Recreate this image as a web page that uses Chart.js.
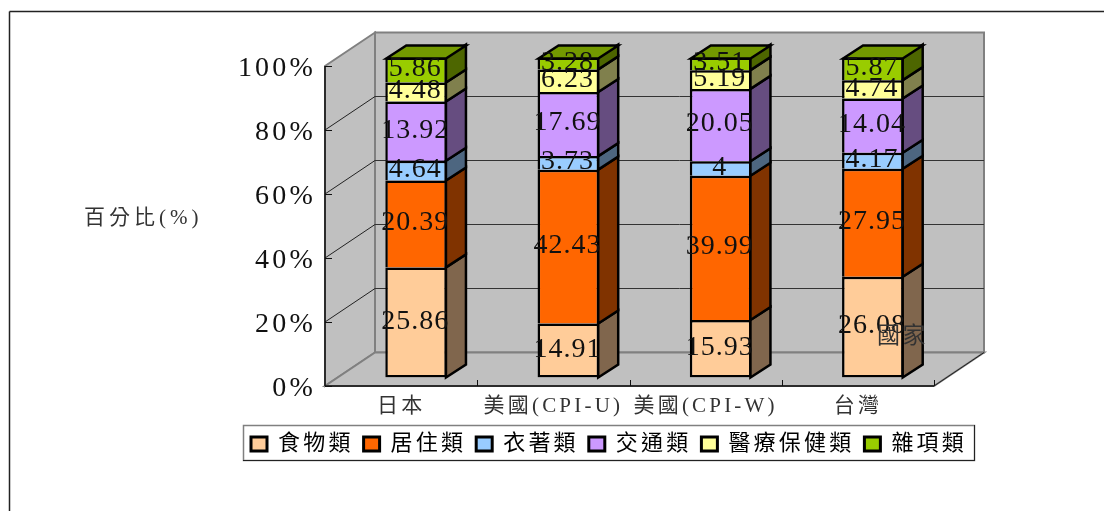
<!DOCTYPE html>
<html>
<head>
<meta charset="utf-8">
<script src="https://cdn.jsdelivr.net/npm/chart.js@4"></script>
<style>
  html, body { margin: 0; padding: 0; background: #fff; overflow: hidden; }
  #wrap { width: 1104px; height: 511px; }
</style>
</head>
<body>
<div id="wrap"><canvas id="c" width="1104" height="511"></canvas></div>
<script>
const countries = ["日本", "美國(CPI-U)", "美國(CPI-W)", "台灣"];
const food = [25.86, 14.91, 15.93, 26.08];
const housing = [20.39, 42.43, 39.99, 27.95];
const clothing = [4.64, 3.73, 4, 4.17];
const transport = [13.92, 17.69, 20.05, 14.04];
const medical = [4.48, 6.23, 5.19, 4.74];
const misc = [5.86, 3.28, 3.51, 5.87];
const seriesNames = ["食物類", "居住類", "衣著類", "交通類", "醫療保健類", "雜項類"];
const seriesColors = ["#FFCC99", "#FF6600", "#99CCFF", "#CC99FF", "#FFFF99", "#99CC00"];
const yTitle = "百分比(%)";
const xTitle = "國家";

const allSeries = [food, housing, clothing, transport, medical, misc];
// the bars are 100% stacked, the labels keep the raw numbers
const totals = countries.map((_, i) => allSeries.reduce((s, a) => s + a[i], 0));

const FONT = '"Liberation Serif", "Noto Sans CJK TC", serif';
const LEFT = 325, RIGHT = 934, TOP = 66, BOTTOM = 386;
const WALL = { dx: 50, dy: -33.5 };   // depth of the box
const BAR_SHIFT = { dx: 15, dy: -8.5 }; // bars stand inside the box
const BAR_DEPTH = { dx: 20, dy: -13 };
const LEGEND_BOX = { l: 243, r: 974, t: 425, b: 460 };

function shade(hex, k) {
  const n = parseInt(hex.slice(1), 16);
  return "rgb(" + [(n >> 16) & 255, (n >> 8) & 255, n & 255].map(v => Math.round(v * k)).join(",") + ")";
}
function poly(ctx, pts, fill, stroke, lw) {
  ctx.beginPath();
  pts.forEach((p, i) => i ? ctx.lineTo(p[0], p[1]) : ctx.moveTo(p[0], p[1]));
  ctx.closePath();
  if (fill) { ctx.fillStyle = fill; ctx.fill(); }
  if (stroke) { ctx.strokeStyle = stroke; ctx.lineWidth = lw; ctx.stroke(); }
}
function line(ctx, x1, y1, x2, y2, color, lw) {
  ctx.beginPath();
  ctx.moveTo(x1, y1);
  ctx.lineTo(x2, y2);
  ctx.strokeStyle = color;
  ctx.lineWidth = lw;
  ctx.stroke();
}

const box3d = {
  id: "box3d",
  beforeLayout(chart) {
    chart.ctx.letterSpacing = "3.2px";
  },
  afterLayout(chart) {
    // legend sits higher than the library would put it, its frame is drawn below
    const lg = chart.legend;
    lg.left = LEGEND_BOX.l - 2; lg.right = 1104; lg.top = LEGEND_BOX.t - 2; lg.bottom = LEGEND_BOX.b;
  },
  beforeDraw(chart) {
    const ctx = chart.ctx;
    ctx.letterSpacing = "3.2px";
    ctx.save();
    // outer frame, cut off by the picture on the right and at the bottom
    line(ctx, 9.5, 11.5, 1104, 11.5, "#222", 1.5);
    line(ctx, 9.5, 11.5, 9.5, 511, "#222", 1.5);
    ctx.restore();
  },
  beforeDatasetsDraw(chart) {
    const ctx = chart.ctx;
    const { x, y } = chart.scales;
    const l = x.left, r = x.right, t = y.getPixelForValue(100), b = y.getPixelForValue(0);
    const d = WALL;
    ctx.save();
    poly(ctx, [[l + d.dx, t + d.dy], [r + d.dx, t + d.dy], [r + d.dx, b + d.dy], [l + d.dx, b + d.dy]], "#C0C0C0", "#808080", 2);
    poly(ctx, [[l, t], [l + d.dx, t + d.dy], [l + d.dx, b + d.dy], [l, b]], "#C0C0C0", "#808080", 2);
    poly(ctx, [[l, b], [r, b], [r + d.dx, b + d.dy], [l + d.dx, b + d.dy]], "#C0C0C0", "#808080", 2);
    line(ctx, r, b, r + d.dx, b + d.dy, "#222", 1);
    y.ticks.forEach(tk => {
      if (tk.value === 0 || tk.value === 100) return;
      const py = y.getPixelForValue(tk.value);
      line(ctx, l, py, l + d.dx, py + d.dy, "#222", 1);
      line(ctx, l + d.dx, py + d.dy, r + d.dx, py + d.dy, "#333", 1);
    });
    // axis ticks point inwards
    y.ticks.forEach(tk => {
      const py = Math.round(y.getPixelForValue(tk.value)) + 0.5;
      line(ctx, l, py, l + 7, py, "#111", 1);
    });
    for (let i = 1; i <= countries.length; i++) {
      const px = Math.round(l + (r - l) * i / countries.length) + 0.5;
      line(ctx, px, b, px, b - 6, "#111", 1);
    }
    line(ctx, l, t, l, b, "#111", 1.5);
    line(ctx, l, b, r, b, "#111", 1.5);
    ctx.restore();
    // the library's bars are the front faces, moved into the box
    ctx.save();
    ctx.translate(BAR_SHIFT.dx, BAR_SHIFT.dy);
  },
  afterDatasetsDraw(chart) {
    const ctx = chart.ctx;
    const d = BAR_DEPTH;
    const n = chart.data.datasets.length;
    chart.data.datasets.forEach((ds, di) => {
      chart.getDatasetMeta(di).data.forEach(bar => {
        const p = bar.getProps(["x", "y", "base", "width"], true);
        const xr = p.x + p.width / 2 - 1, xl = p.x - p.width / 2 + 1;
        poly(ctx, [[xr, p.y], [xr + d.dx, p.y + d.dy], [xr + d.dx, p.base + d.dy], [xr, p.base]], shade(seriesColors[di], 0.5), "#000", 2.5);
        if (di === n - 1) {
          poly(ctx, [[xl, p.y + 1], [xl + d.dx, p.y + 1 + d.dy], [xr + d.dx, p.y + 1 + d.dy], [xr, p.y + 1]], shade(seriesColors[di], 0.75), "#000", 2.5);
        }
      });
    });
    // value labels on the front faces
    ctx.font = "28px " + FONT;
    ctx.letterSpacing = "1px";
    ctx.fillStyle = "#111";
    ctx.textAlign = "center";
    ctx.textBaseline = "middle";
    chart.data.datasets.forEach((ds, di) => {
      chart.getDatasetMeta(di).data.forEach((bar, i) => {
        const p = bar.getProps(["x", "y", "base"], true);
        ctx.fillText(String(allSeries[di][i]), p.x - 1, (p.y + p.base) / 2 - 1);
      });
    });
    ctx.letterSpacing = "3.2px";
    ctx.restore();
  },
  afterDraw(chart) {
    const ctx = chart.ctx;
    const f = LEGEND_BOX;
    ctx.save();
    // legend frame
    ctx.strokeStyle = "#808080";
    ctx.lineWidth = 1.5;
    ctx.strokeRect(f.l + 0.5, f.t + 0.5, f.r - f.l, f.b - f.t);
    line(ctx, f.l, f.b + 0.5, f.r + 1, f.b + 0.5, "#222", 1);
    line(ctx, f.r + 0.5, f.t, f.r + 0.5, f.b + 1, "#222", 1);
    // axis titles
    ctx.fillStyle = "#333";
    ctx.textBaseline = "middle";
    ctx.textAlign = "left";
    ctx.font = "21px " + FONT;
    ctx.letterSpacing = "4px";
    ctx.fillText(yTitle, 84, 218);
    ctx.font = "23px " + FONT;
    ctx.letterSpacing = "2.5px";
    ctx.fillText(xTitle, 877, 337);
    ctx.restore();
  }
};

new Chart(document.getElementById("c"), {
  type: "bar",
  data: {
    labels: countries,
    datasets: allSeries.map((vals, i) => ({
      label: seriesNames[i],
      data: vals.map((v, k) => v / totals[k] * 100),
      backgroundColor: seriesColors[i],
      borderColor: "#000",
      borderWidth: 2.5,
      borderSkipped: i === 0 ? false : "start",
      barPercentage: 0.405,
      categoryPercentage: 1
    }))
  },
  plugins: [box3d],
  options: {
    responsive: false,
    animation: false,
    layout: { padding: { top: TOP, left: 0, right: 1104 - RIGHT, bottom: 51 } },
    scales: {
      x: {
        stacked: true,
        grid: { display: false, drawTicks: false },
        border: { display: false },
        ticks: { color: "#333", font: { family: FONT, size: 21 }, padding: 8, maxRotation: 0, autoSkip: false },
        afterFit(s) { s.height = 511 - BOTTOM - 51 - (s.chart.legend ? s.chart.legend.height : 36); }
      },
      y: {
        stacked: true,
        min: 0,
        max: 100,
        grid: { display: false, drawTicks: false },
        border: { display: false },
        ticks: { stepSize: 20, color: "#111", padding: 9, labelOffset: 3, font: { family: FONT, size: 28 }, callback: v => v + "%" },
        afterFit(s) { s.width = LEFT; }
      }
    },
    plugins: {
      title: { display: false },
      tooltip: { enabled: false },
      legend: {
        position: "bottom",
        align: "start",
        labels: {
          boxWidth: 16,
          boxHeight: 14,
          padding: 10,
          color: "#333",
          font: { family: FONT, size: 22 },
          generateLabels(chart) {
            return seriesNames.map((name, i) => ({
              text: name,
              fillStyle: seriesColors[i],
              strokeStyle: "#000",
              lineWidth: 3,
              datasetIndex: i
            }));
          }
        }
      }
    }
  }
});
</script>
</body>
</html>
